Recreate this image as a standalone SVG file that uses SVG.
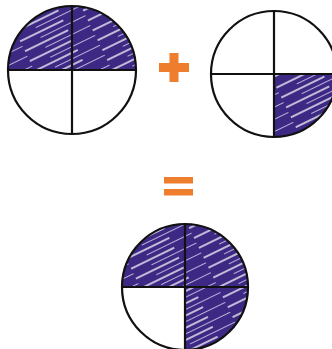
<svg xmlns="http://www.w3.org/2000/svg" width="332" height="349" viewBox="0 0 332 349">
<style>
.ring{fill:none;stroke:#111;stroke-width:2.2}
.ax{stroke:#111;stroke-width:2.2}
.shade{fill:url(#hatch)}
.op{fill:#ee7d2e}
</style>
<defs>
<pattern id="hatch" patternUnits="userSpaceOnUse" width="70" height="11" patternTransform="rotate(-26)">
<rect width="70" height="11" fill="#3d2983"/>
<line x1="0" y1="2" x2="48" y2="2" stroke="#fff" stroke-width="1.4" opacity="0.9"/>
<line x1="20" y1="7.5" x2="70" y2="7.5" stroke="#e4defa" stroke-width="1" opacity="0.75"/>
</pattern>
</defs>
<rect width="332" height="349" fill="#fff"/>
<g id="circle-half">
<path class="shade" d="M8,70 A64,64 0 0 1 136,70 Z"/>
<circle class="ring" cx="72" cy="70" r="64"/>
<line class="ax" x1="8" y1="70" x2="136" y2="70"/>
<line class="ax" x1="72" y1="6" x2="72" y2="134"/>
</g>
<g id="plus">
<rect class="op" x="159" y="63" width="30" height="9"/>
<rect class="op" x="169.5" y="53" width="9" height="29"/>
</g>
<g id="circle-quarter">
<path class="shade" d="M274,74 L337,74 A63,63 0 0 1 274,137 Z"/>
<circle class="ring" cx="274" cy="74" r="63"/>
<line class="ax" x1="211" y1="74" x2="337" y2="74"/>
<line class="ax" x1="274" y1="11" x2="274" y2="137"/>
</g>
<g id="equals">
<rect class="op" x="164" y="177" width="29" height="6.5"/>
<rect class="op" x="164" y="189" width="29" height="6.5"/>
</g>
<g id="circle-three-quarters">
<path class="shade" d="M185,287 L122,287 A63,63 0 1 1 185,350 Z"/>
<circle class="ring" cx="185" cy="287" r="63"/>
<line class="ax" x1="122" y1="287" x2="248" y2="287"/>
<line class="ax" x1="185" y1="224" x2="185" y2="350"/>
</g>
<g id="connectors"></g>
</svg>
